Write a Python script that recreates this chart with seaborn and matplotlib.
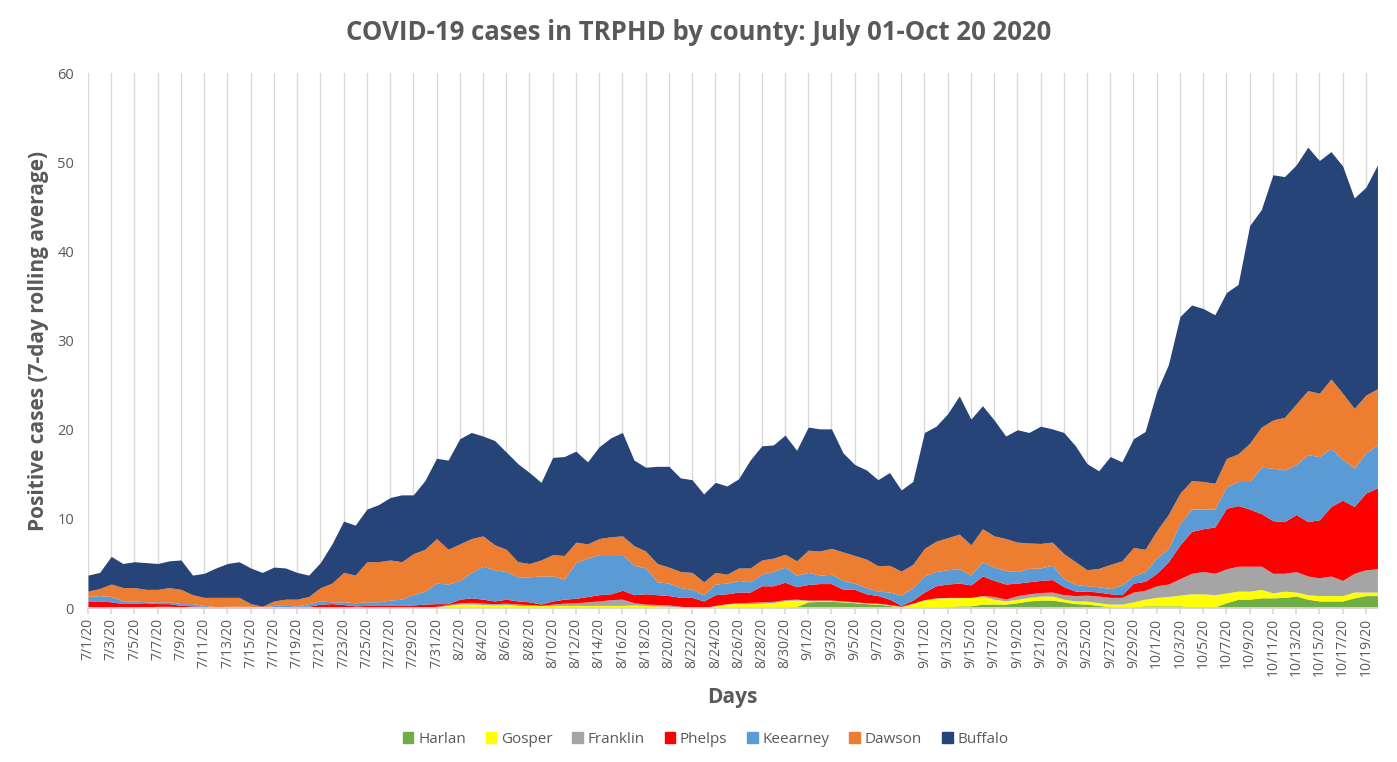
import numpy as np
import pandas as pd
import matplotlib
matplotlib.use("Agg")
import matplotlib.pyplot as plt
import seaborn as sns
from matplotlib.patches import Patch

# ── data: 7-day rolling average per county, 7/1/20 .. 10/20/20 ──────────────
dates = pd.date_range("2020-07-01", "2020-10-20", freq="D")

harlan = ([0] * 20 + [0] * 18 + [0] * 18 +
          [0, 0, 0, 0, 0.05, 0.2, 0.7, 0.75, 0.75, 0.7, 0.6, 0.5, 0.45, 0.3, 0.1, 0, 0, 0.1] +
          [0.15, 0.25, 0.25, 0.45, 0.45, 0.45, 0.6, 0.8, 0.9, 0.9, 0.7, 0.5, 0.45, 0.3, 0.15, 0.05, 0.15, 0.25, 0.25, 0.25] +
          [0.25, 0.15, 0.15, 0.15, 0.6, 1.0, 1.0, 1.15, 1.15, 1.2, 1.35, 1.0, 0.8, 0.8, 0.8, 1.15, 1.4, 1.4])

gosper = ([0] * 20 +
          [0, 0, 0, 0, 0, 0, 0, 0, 0, 0, 0.1, 0.3, 0.45, 0.45, 0.4, 0.35, 0.4, 0.3] +
          [0.3, 0.3, 0.3, 0.3, 0.3, 0.3, 0.3, 0.3, 0.3, 0.35, 0.3, 0.25, 0.2, 0.1, 0.05, 0, 0.25, 0.45] +
          [0.5, 0.5, 0.55, 0.6, 0.8, 0.7, 0.15, 0.1, 0.1, 0.05, 0.05, 0.05, 0.05, 0.05, 0.05, 0.5, 0.9, 1.0] +
          [1.0, 0.9, 0.95, 0.9, 0.55, 0.35, 0.4, 0.4, 0.45, 0.45, 0.3, 0.3, 0.35, 0.3, 0.3, 0.4, 0.55, 0.75, 0.95, 1.05] +
          [1.2, 1.45, 1.45, 1.35, 1.1, 0.9, 0.9, 0.95, 0.55, 0.7, 0.45, 0.5, 0.6, 0.6, 0.6, 0.65, 0.4, 0.4])

franklin = ([0, 0, 0, 0, 0.05, 0.15, 0.2, 0.2, 0.15, 0.1, 0, 0, 0, 0, 0, 0, 0, 0, 0, 0] +
            [0, 0, 0, 0, 0, 0, 0, 0.05, 0.05, 0.1, 0.1, 0.1, 0.15, 0.2, 0.15, 0.15, 0.15, 0.15] +
            [0.1, 0, 0.15, 0.25, 0.3, 0.4, 0.5, 0.65, 0.7, 0.25, 0.15, 0.15, 0.15, 0.1, 0.05, 0.05, 0.05, 0.05] +
            [0.1, 0.15, 0.15, 0.15, 0.1, 0.1, 0.05, 0.05, 0.05, 0.05, 0.05, 0.05, 0.05, 0.05, 0.05, 0.05, 0.05, 0.05] +
            [0.05, 0.05, 0, 0.05, 0.3, 0.2, 0.4, 0.4, 0.4, 0.45, 0.5, 0.6, 0.65, 0.75, 0.75, 0.75, 1.1, 1.0, 1.3, 1.4] +
            [1.85, 2.3, 2.5, 2.4, 2.7, 2.8, 2.8, 2.6, 2.2, 2.0, 2.3, 2.1, 2.0, 2.2, 1.7, 2.1, 2.5, 2.6])

phelps = ([0.8, 0.8, 0.7, 0.5, 0.5, 0.45, 0.3, 0.3, 0.15, 0.15, 0.2, 0.1, 0.1, 0.1, 0.1, 0.05, 0.1, 0.15, 0.2, 0.2] +
          [0.45, 0.5, 0.4, 0.25, 0.3, 0.3, 0.3, 0.25, 0.3, 0.35, 0.3, 0.1, 0.4, 0.5, 0.45, 0.3, 0.45, 0.35] +
          [0.3, 0.15, 0.35, 0.45, 0.5, 0.6, 0.7, 0.65, 1.0, 0.9, 1.15, 1.1, 1.05, 1.0, 1.1, 0.75, 1.2, 1.1] +
          [1.2, 1.15, 1.8, 1.75, 1.95, 1.4, 1.75, 1.85, 1.85, 1.3, 1.4, 1.0, 0.85, 0.6, 0.1, 0.35, 0.85, 1.35] +
          [1.5, 1.6, 1.4, 2.2, 1.8, 1.7, 1.4, 1.35, 1.35, 1.4, 0.9, 0.5, 0.45, 0.45, 0.4, 0.3, 1.0, 1.0, 1.4, 2.5] +
          [3.8, 4.7, 4.8, 5.2, 6.8, 6.8, 6.4, 5.9, 5.9, 5.8, 6.4, 6.1, 6.5, 7.8, 9.0, 7.5, 8.6, 9.1])

keearney = ([0.5, 0.6, 0.6, 0.3, 0.25, 0.1, 0.2, 0.2, 0.2, 0.25, 0.1, 0.05, 0.1, 0.1, 0.1, 0.05, 0.2, 0.15, 0.05, 0.3] +
            [0.35, 0.2, 0.3, 0.35, 0.4, 0.4, 0.6, 0.7, 1.15, 1.45, 2.3, 2.2, 2.1, 2.85, 3.7, 3.5, 3.1, 2.7] +
            [2.8, 3.15, 2.8, 2.25, 4.0, 4.3, 4.5, 4.4, 4.0, 3.3, 2.9, 1.45, 1.4, 1.1, 0.9, 0.7, 1.2, 1.2] +
            [1.3, 1.15, 1.3, 1.6, 1.7, 1.3, 1.35, 0.95, 1.05, 1.0, 0.7, 0.7, 0.5, 0.8, 1.15, 1.4, 1.8, 1.6] +
            [1.6, 1.6, 1.1, 1.6, 1.5, 1.5, 1.3, 1.5, 1.4, 1.6, 0.9, 0.75, 0.6, 0.6, 0.6, 1.1, 0.8, 1.1, 1.7, 1.5] +
            [2.4, 2.5, 2.2, 2.0, 2.4, 2.7, 3.1, 5.2, 5.9, 5.8, 5.6, 7.5, 7.1, 6.5, 4.6, 4.3, 4.5, 4.8])

dawson = ([0.6, 0.8, 1.4, 1.5, 1.5, 1.4, 1.4, 1.6, 1.6, 1.0, 0.9, 1.05, 1.0, 1.0, 0.3, 0.1, 0.5, 0.7, 0.75, 0.8] +
          [1.5, 2.1, 3.3, 3.1, 4.5, 4.5, 4.5, 4.2, 4.6, 4.7, 5.0, 3.9, 4.1, 3.8, 3.4, 2.8, 2.5, 1.7] +
          [1.5, 1.8, 2.4, 2.65, 2.3, 1.6, 1.8, 2.0, 2.1, 2.2, 1.9, 2.05, 1.8, 1.8, 1.9, 1.45, 1.3, 1.0] +
          [1.4, 1.55, 1.6, 1.5, 1.45, 1.6, 2.5, 2.7, 2.9, 3.2, 3.1, 3.2, 2.85, 3.0, 2.7, 2.6, 3.1, 3.4] +
          [3.6, 3.9, 3.4, 3.7, 3.5, 3.6, 3.3, 2.85, 2.75, 2.6, 2.8, 2.55, 1.8, 2.05, 2.7, 2.7, 3.2, 2.5, 3.1, 3.8] +
          [3.4, 3.2, 3.1, 2.9, 3.2, 3.1, 4.3, 4.5, 5.4, 5.9, 6.8, 7.2, 7.1, 7.8, 7.4, 6.7, 6.5, 6.3])

buffalo = ([1.8, 1.8, 3.1, 2.7, 2.9, 3.0, 2.9, 3.0, 3.3, 2.2, 2.7, 3.3, 3.8, 4.0, 4.0, 3.8, 3.8, 3.5, 3.0, 2.4] +
           [2.8, 4.4, 5.75, 5.6, 5.9, 6.4, 7.0, 7.5, 6.6, 7.7, 9.0, 10.0, 11.8, 11.9, 11.2, 11.7, 10.9, 11.0] +
           [10.2, 8.7, 10.9, 11.1, 10.2, 9.2, 10.3, 11.1, 11.6, 9.6, 9.4, 10.9, 11.3, 10.5, 10.4, 9.85, 10.1, 9.9] +
           [10.0, 12.1, 12.8, 12.7, 13.35, 12.4, 13.8, 13.7, 13.4, 11.1, 10.2, 10.0, 9.65, 10.4, 9.1, 9.3, 13.0, 12.9] +
           [13.9, 15.5, 14.1, 13.8, 13.0, 11.5, 12.6, 12.4, 13.15, 12.7, 13.6, 13.0, 11.9, 10.95, 12.1, 11.1, 12.2, 13.2, 15.6, 16.8] +
           [19.8, 19.7, 19.4, 18.9, 18.6, 19.0, 24.4, 24.4, 27.5, 27.0, 26.8, 27.3, 26.1, 25.5, 25.5, 23.6, 23.3, 25.1])

counties = ["Harlan", "Gosper", "Franklin", "Phelps", "Keearney", "Dawson", "Buffalo"]
colors = ["#70AD47", "#FFFF00", "#A5A5A5", "#FF0000", "#5B9BD5", "#ED7D31", "#264478"]

df = pd.DataFrame({"Harlan": harlan, "Gosper": gosper, "Franklin": franklin,
                   "Phelps": phelps, "Keearney": keearney, "Dawson": dawson,
                   "Buffalo": buffalo}, index=dates)

# ── plot ───────────────────────────────────────────────────────────────────
sns.set_theme(style="white")
plt.rcParams["font.family"] = ["Open Sans", "DejaVu Sans"]
grey = "#595959"

fig = plt.figure(figsize=(13.97, 7.62), dpi=100)
ax = fig.add_axes([0.063, 0.202, 0.923, 0.702])

x = np.arange(len(df))
ax.stackplot(x, [df[c].values for c in counties], colors=colors,
             labels=counties, linewidth=0, zorder=2)

tick_pos = x[::2]
tick_lab = [f"{d.month}/{d.day}/{d.strftime('%y')}" for d in df.index[::2]]
ax.set_xticks(tick_pos)
ax.set_xticklabels(tick_lab, rotation=90, fontsize=10, color=grey)
ax.set_xlim(0, len(df) - 1)
ax.xaxis.grid(True, color="#D9D9D9", lw=1.0, zorder=0)
ax.set_axisbelow(True)
ax.tick_params(axis="x", length=4, color="#D9D9D9", pad=3, bottom=True)

ax.set_ylim(0, 60)
ax.set_yticks(range(0, 61, 10))
ax.tick_params(axis="y", labelsize=10.5, labelcolor=grey, length=0, pad=10)

for s in ["top", "right", "left"]:
    ax.spines[s].set_visible(False)
ax.spines["bottom"].set_color("#D9D9D9")

ax.set_xlabel("Days", fontsize=15, fontweight="bold", color=grey, labelpad=8)
ax.set_ylabel("Positive cases (7-day rolling average)", fontsize=15,
              fontweight="bold", color=grey, labelpad=6)
fig.suptitle("COVID-19 cases in TRPHD by county: July 01-Oct 20 2020",
             x=0.5, y=0.975, fontsize=18.5, fontweight="bold", color=grey)

handles = [Patch(color=c, label=n) for n, c in zip(counties, colors)]
fig.legend(handles=handles, loc="center", bbox_to_anchor=(0.505, 0.03), ncol=7,
           frameon=False, fontsize=11, handlelength=0.7, handleheight=0.7,
           handletextpad=0.3, columnspacing=1.3, labelcolor=grey)

fig.savefig("out.png", dpi=100)
